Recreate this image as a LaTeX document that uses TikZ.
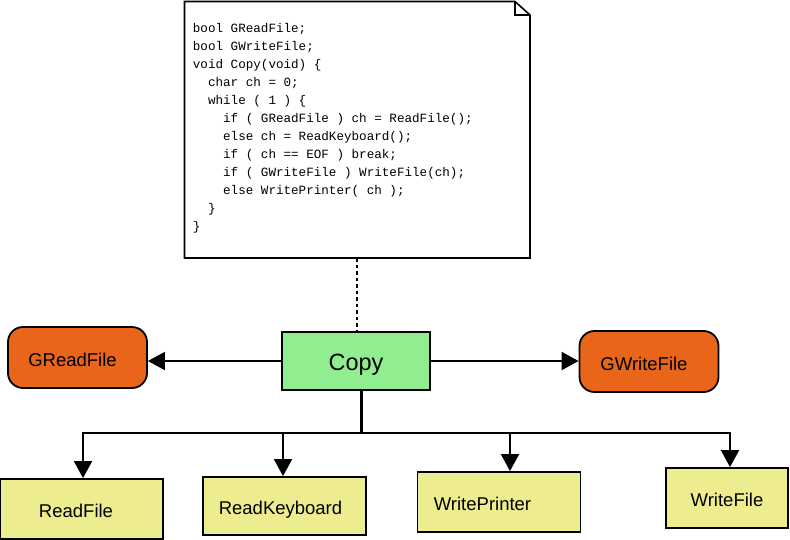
\documentclass[tikz,border=0pt]{standalone}
\usepackage{fontspec}
\setmainfont{Liberation Sans}
\newfontfamily\codefont{Liberation Mono}
\usetikzlibrary{arrows.meta}
\definecolor{orangebox}{HTML}{E8651A}
\definecolor{greenbox}{HTML}{90EE90}
\definecolor{yellowbox}{HTML}{EDED8F}
\begin{document}
\begin{tikzpicture}[x=1pt,y=-1pt,
  line width=1.8pt,
  tip/.style={-{Triangle[length=17pt,width=18pt]}},
  flagbox/.style={draw=black,fill=orangebox,rounded corners=15pt,minimum width=139pt,minimum height=61pt,font=\fontsize{18.5}{20}\selectfont,inner sep=0pt,text height=17pt,text depth=0pt},
  funcbox/.style={draw=black,fill=yellowbox,minimum height=60pt,font=\fontsize{18.5}{20}\selectfont,inner sep=0pt,text height=17pt,text depth=0pt},
  codeline/.style={anchor=base west,inner sep=0pt,font=\codefont\fontsize{12.6}{14}\selectfont}
]
\useasboundingbox (0,0) rectangle (790,539);
% note
\draw[line width=1.6pt,fill=white] (184.5,1.5) -- (515,1.5) -- (530,15) -- (530,258) -- (184.5,258) -- cycle;
\draw[line width=1.4pt] (515,1.5) -- (515,15) -- (530,15);
\coordinate (notebot) at (357,258);
\foreach \t [count=\i] in {%
  {bool GReadFile;},
  {bool GWriteFile;},
  {void Copy(void) \{},
  {\ \ char ch = 0;},
  {\ \ while ( 1 ) \{},
  {\ \ \ \ if ( GReadFile ) ch = ReadFile();},
  {\ \ \ \ else ch = ReadKeyboard();},
  {\ \ \ \ if ( ch == EOF ) break;},
  {\ \ \ \ if ( GWriteFile ) WriteFile(ch);},
  {\ \ \ \ else WritePrinter( ch );},
  {\ \ \}},
  {\}}}
  \node[codeline] (c\i) at (192,{32+(\i-1)*18}) {\t};
% main nodes
\node[draw=black,fill=greenbox,minimum width=148pt,minimum height=58pt,inner sep=0pt,font=\fontsize{23.5}{26}\selectfont,text height=19pt,text depth=0pt] (copy) at (356,361) {Copy};
\node[flagbox] (gread) at (77.5,357.5) {\hspace*{-10pt}GReadFile};
\node[flagbox] (gwrite) at (649,361.5) {\hspace*{-10pt}GWriteFile};
\node[funcbox,minimum width=163pt] (readfile) at (81.5,509) {\hspace*{-11pt}ReadFile};
\node[funcbox,minimum width=163pt,minimum height=58pt] (readkb) at (284.5,506) {\hspace*{-8pt}ReadKeyboard};
\node[funcbox,minimum width=163pt] (wprinter) at (499,502) {\hspace*{-33pt}WritePrinter};
\node[funcbox,minimum width=122pt] (wfile) at (727,498) {WriteFile};
% connectors
\draw[line width=1.6pt,dash pattern=on 3.5pt off 3pt] (notebot) -- (copy.north -| notebot);
\draw[tip] (copy.west) -- (copy.west -| gread.east);
\draw[tip] (copy.east) -- (copy.east -| gwrite.west);
\coordinate (split) at (361,433);
\draw[line width=3pt] (copy.south -| split) -- (split);
\draw[tip] (split) -| (readfile.north -| 83,0);
\draw[tip] (split) -| (readkb.north -| 283,0);
\draw[tip] (split) -| (wprinter.north -| 510,0);
\draw[tip] (split) -| (wfile.north -| 730,0);
\end{tikzpicture}
\end{document}
